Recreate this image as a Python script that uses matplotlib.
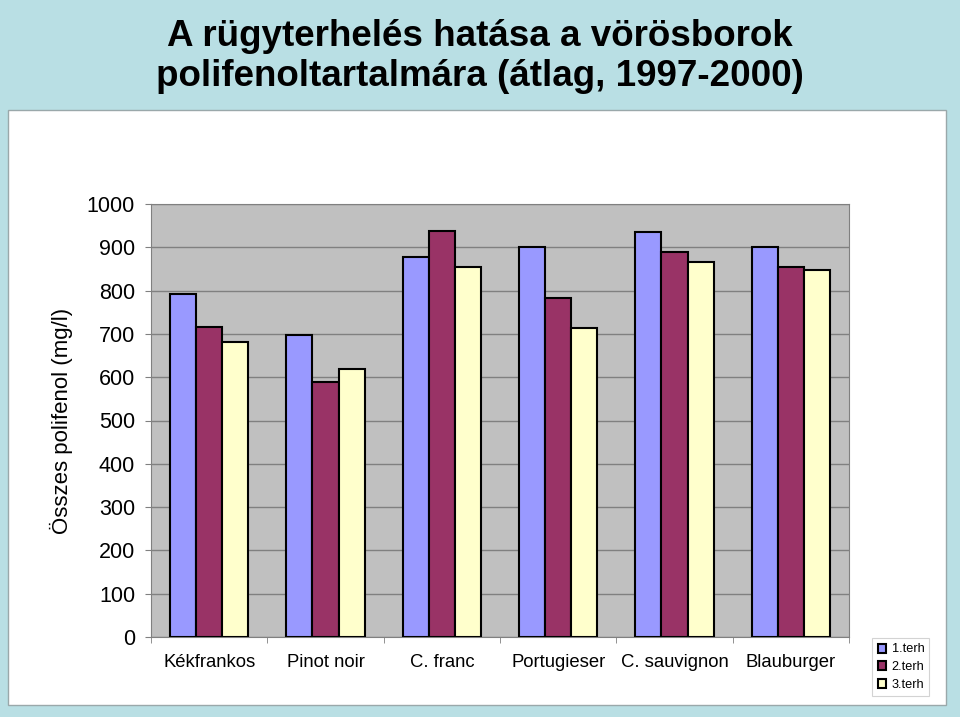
import numpy as np
import matplotlib
matplotlib.use("Agg")
import matplotlib.pyplot as plt
from matplotlib.patches import Rectangle

plt.rcParams['font.family'] = ['Liberation Sans', 'DejaVu Sans']

# data
categories = ["Kékfrankos", "Pinot noir", "C. franc", "Portugieser", "C. sauvignon", "Blauburger"]
terh1 = [793, 697, 877, 900, 935, 900]
terh2 = [717, 590, 938, 782, 889, 854]
terh3 = [681, 620, 854, 713, 866, 847]
series_names = ["1.terh", "2.terh", "3.terh"]
colors = ["#9999FF", "#993366", "#FFFFCC"]
y_ticks = [0, 100, 200, 300, 400, 500, 600, 700, 800, 900, 1000]

fig = plt.figure(figsize=(9.6, 7.17), dpi=100)
fig.patch.set_facecolor("#B9DFE4")

# white panel behind the chart
panel = Rectangle((8 / 960, 1 - 705 / 717), (946 - 8) / 960, (705 - 110) / 717,
                  transform=fig.transFigure, facecolor="white", edgecolor="#9AA8AA",
                  linewidth=1, zorder=-5)
fig.patches.append(panel)

fig.text(0.5, 1 - 37 / 717, "A rügyterhelés hatása a vörösborok", ha="center", va="center",
         fontsize=26.5, fontweight="bold")
fig.text(0.5, 1 - 77 / 717, "polifenoltartalmára (átlag, 1997-2000)", ha="center", va="center",
         fontsize=26.5, fontweight="bold")

ax = fig.add_axes([151 / 960, 1 - 637 / 717, (849 - 151) / 960, (637 - 204) / 717])
ax.set_zorder(2)
ax.set_facecolor("#C0C0C0")

x = np.arange(len(categories))
w = 0.225
for i, (vals, name, c) in enumerate(zip([terh1, terh2, terh3], series_names, colors)):
    ax.bar(x + (i - 1) * w, vals, width=w, color=c, edgecolor="black", linewidth=1.5,
           label=name, zorder=3)

ax.set_xlim(-0.5, len(categories) - 0.5)
ax.set_ylim(0, 1000)
ax.set_yticks(y_ticks)
ax.set_yticklabels([str(t) for t in y_ticks], fontsize=15.5)
ax.yaxis.grid(True, color="#808080", linewidth=1, zorder=0)
ax.set_axisbelow(True)

ax.set_xticks(x)
ax.set_xticklabels(categories, fontsize=13.3)
ax.set_xticks(np.arange(-0.5, len(categories), 1), minor=True)
ax.tick_params(axis="x", which="major", length=0, pad=12)
ax.tick_params(axis="x", which="minor", length=4, color="#808080")
ax.tick_params(axis="y", length=4.5, color="#808080", pad=7)

for s in ["top", "right", "left", "bottom"]:
    ax.spines[s].set_color("#808080")

ax.set_ylabel("Összes polifenol (mg/l)", fontsize=16, labelpad=10)

leg = ax.legend(loc="upper left", bbox_to_anchor=(866 / 960, 1 - 632 / 717),
                bbox_transform=fig.transFigure, fontsize=9.2, frameon=True, fancybox=False,
                handlelength=0.7, handleheight=0.7, handletextpad=0.4, labelspacing=0.45,
                borderpad=0.4)
leg.get_frame().set_edgecolor("#C8C8C8")
leg.get_frame().set_linewidth(0.8)

fig.savefig("out.png", dpi=100, facecolor=fig.get_facecolor())
